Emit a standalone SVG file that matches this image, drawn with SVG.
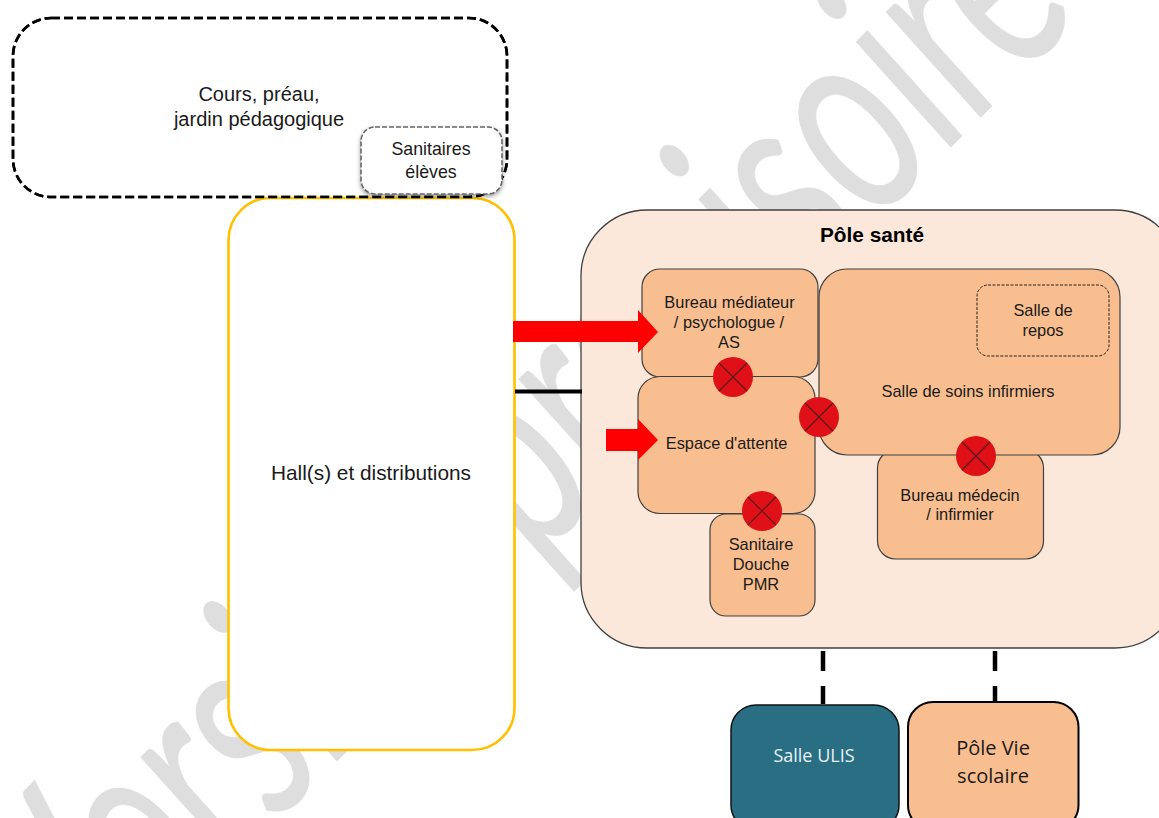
<svg xmlns="http://www.w3.org/2000/svg" width="1159" height="818" viewBox="0 0 1159 818">
<style>
text{font-family:"Liberation Sans",Arial,sans-serif;fill:#1a1a1a;text-anchor:middle}
.s15{font-size:16.400px}
.room{fill:#F9BE8F;stroke:#404040;stroke-width:1.2}
.dot{fill:#E01019}
.x{stroke:#5a1a1a;stroke-width:1.2}
.dash{stroke:#000;stroke-width:4.5;stroke-dasharray:20 15;fill:none}
</style>
<defs><filter id="sh" x="-10%" y="-10%" width="120%" height="125%"><feDropShadow dx="0" dy="2" stdDeviation="2" flood-color="#000" flood-opacity=".4"/></filter></defs>
<rect width="1159" height="818" fill="#fff"/>
<text id="watermark" transform="matrix(1.27,-1.27,1.87,2.08,83,1015)" font-size="100" style="font-family:Lato,sans-serif;text-anchor:start;fill:#DEDEDE;stroke:#DEDEDE;stroke-width:.3">Version provisoire</text>
<g id="cours"><rect x="13" y="18" width="494" height="179" rx="38" fill="#fff" stroke="#000" stroke-width="2.6" stroke-dasharray="9 4"/><text x="259" y="101" font-size="20">Cours, préau,</text><text x="259" y="126" font-size="20">jardin pédagogique</text></g>
<g id="hall"><rect x="228.500" y="198" width="286" height="552" rx="42" fill="#fff" stroke="#FFC000" stroke-width="2.6"/><text x="371" y="480" font-size="20.800">Hall(s) et distributions</text></g>
<rect x="13" y="18" width="494" height="179" rx="38" fill="none" stroke="#000" stroke-width="2.6" stroke-dasharray="9 4"/>
<g id="sanitaires"><rect x="361" y="127" width="141" height="67" rx="14" fill="#fff" stroke="#666" stroke-width="1.6" stroke-dasharray="5 2" filter="url(#sh)"/><text x="431" y="155" font-size="17.800">Sanitaires</text><text x="431" y="178" font-size="17.800">élèves</text></g>
<g id="pole"><rect x="581" y="210" width="600" height="438" rx="66" fill="#FCE8DA" stroke="#404040" stroke-width="1.300"/><text x="872" y="242" font-size="20.800" font-weight="700" style="fill:#000">Pôle santé</text></g>
<g id="medecin"><rect class="room" x="877.500" y="450" width="166" height="109" rx="18"/><text class="s15" x="960" y="501">Bureau médecin</text><text class="s15" x="960" y="520">/ infirmier</text></g>
<g id="soins"><rect class="room" x="819" y="269" width="301" height="186" rx="28"/><text class="s15" x="968" y="397">Salle de soins infirmiers</text></g>
<g id="repos"><rect x="977" y="285" width="132" height="71" rx="11" fill="none" stroke="#222" stroke-dasharray="3 1.500"/><text class="s15" x="1043" y="316">Salle de</text><text class="s15" x="1043" y="336">repos</text></g>
<g id="sanitaire-pmr"><rect class="room" x="710" y="514" width="105" height="102" rx="16"/><text class="s15" x="761" y="550">Sanitaire</text><text class="s15" x="761" y="570">Douche</text><text class="s15" x="761" y="590">PMR</text></g>
<g id="mediateur"><rect class="room" x="642" y="269" width="176" height="108" rx="18"/><text class="s15" x="729.500" y="308">Bureau médiateur</text><text class="s15" x="729" y="328">/ psychologue /</text><text class="s15" x="729" y="348">AS</text></g>
<g id="attente"><rect class="room" x="638" y="376.500" width="177" height="137" rx="22"/><text class="s15" x="726.500" y="449">Espace d'attente</text></g>
<g id="connectors">
<path d="M513 321H638V310L658 332L638 353V342H513Z" fill="#f00"/>
<path d="M606 429H638V419L658 440L638 460V451H606Z" fill="#f00"/>
<path d="M515 391.500H582" stroke="#000" stroke-width="4"/>
<path class="dash" d="M823 651V704"/><path class="dash" d="M995 651V704"/>
</g>
<g id="portes">
<circle class="dot" cx="733" cy="377" r="20"/><path class="x" d="M719 363L747 391M747 363L719 391"/>
<circle class="dot" cx="819" cy="417" r="20"/><path class="x" d="M805 403L833 431M833 403L805 431"/>
<circle class="dot" cx="762" cy="511" r="20"/><path class="x" d="M748 497L776 525M776 497L748 525"/>
<circle class="dot" cx="976" cy="456" r="20"/><path class="x" d="M962 442L990 470M990 442L962 470"/>
</g>
<g id="ulis"><rect x="731" y="705" width="168" height="125" rx="25" fill="#296E82" stroke="#111" stroke-width="1.500"/><text x="814" y="762" font-size="18" style="font-family:'Open Sans',sans-serif;fill:#E8F2F5">Salle ULIS</text></g>
<g id="viescolaire"><rect x="908" y="702" width="170.500" height="128" rx="25" fill="#F9BE8F" stroke="#000" stroke-width="2"/><text x="993" y="755" font-size="20" style="font-family:'Open Sans',sans-serif">Pôle Vie</text><text x="993" y="783" font-size="20" style="font-family:'Open Sans',sans-serif">scolaire</text></g>
</svg>
